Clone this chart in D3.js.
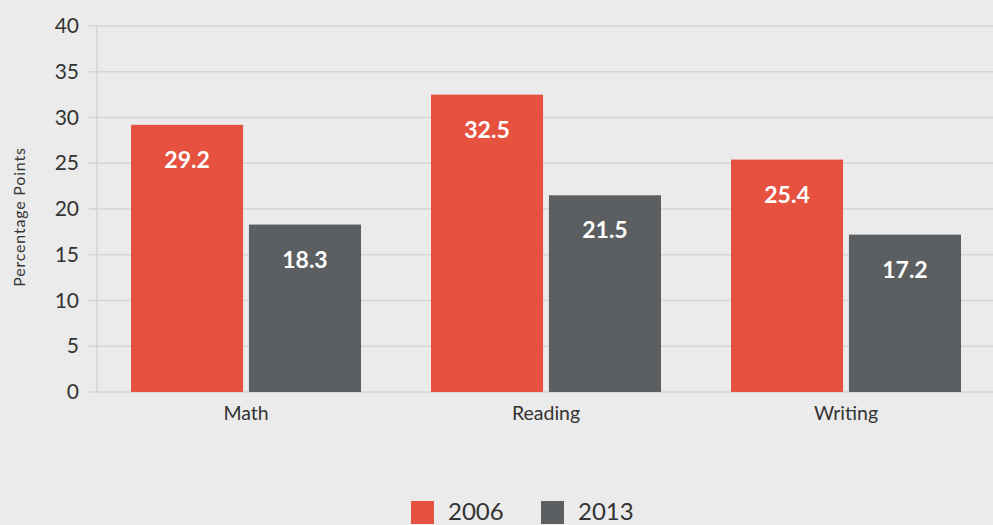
<!DOCTYPE html>
<html>
<head>
<meta charset="utf-8">
<script src="https://cdn.jsdelivr.net/npm/d3@7"></script>
<style>
  html, body { margin: 0; padding: 0; background: #ebebeb; }
  svg { display: block; font-family: Lato, "Open Sans", sans-serif; }
</style>
</head>
<body>
<svg id="chart" width="993" height="525"></svg>
<script>
var categories = ['Math', 'Reading', 'Writing'] ;
var seriesNames = ['2006', '2013'] ;
var values2006 = [29.2, 32.5, 25.4] ;
var values2013 = [18.3, 21.5, 17.2] ;
var yTicks = [0, 5, 10, 15, 20, 25, 30, 35, 40] ;
var colors = ['#e65140', '#5c5f61'] ;

var width = 993, height = 525 ;
var svg = d3.select('#chart') ;
svg.append('rect').attr('width', width).attr('height', height).attr('fill', '#ebebeb') ;

var plotLeft = 97, plotRight = 993, plotTop = 26, plotBottom = 392 ;

var y = d3.scaleLinear().domain([0, 40]).range([plotBottom, plotTop]) ;
var x0 = d3.scaleBand().domain(categories).range([96, 996]).paddingInner(0.2333).paddingOuter(0.1167) ;
var x1 = d3.scaleBand().domain(seriesNames).range([0, x0.bandwidth()]).paddingInner(0.05) ;

// grid lines
svg.append('g').selectAll('line').data(yTicks).join('line')
	.attr('x1', 89).attr('x2', plotRight)
	.attr('y1', d => y(d)).attr('y2', d => y(d))
	.attr('stroke', '#d5d5d5').attr('stroke-width', 1.5) ;

// y axis line
svg.append('line').attr('x1', plotLeft).attr('x2', plotLeft).attr('y1', plotTop).attr('y2', plotBottom)
	.attr('stroke', '#d5d5d5').attr('stroke-width', 1.5) ;

// y tick labels
var yAxis = d3.axisLeft(y).tickValues(yTicks).tickSize(0).tickPadding(0) ;
var gy = svg.append('g').attr('transform', 'translate(79,0)').call(yAxis) ;
gy.select('.domain').remove() ;
gy.selectAll('text').attr('font-size', 21).attr('fill', '#333').attr('font-family', 'Lato, sans-serif') ;

// y title
svg.append('text').attr('transform', 'translate(25,' + ((plotTop + plotBottom) / 2 + 8) + ') rotate(-90)')
	.attr('text-anchor', 'middle').attr('font-size', 16).attr('letter-spacing', 0.8).attr('fill', '#333')
	.text('Percentage Points') ;

// x labels
var xAxis = d3.axisBottom(x0).tickSize(0).tickPadding(0) ;
var gx = svg.append('g').attr('transform', 'translate(0,' + (plotBottom + 14) + ')').call(xAxis) ;
gx.select('.domain').remove() ;
gx.selectAll('text').attr('font-size', 19.5).attr('fill', '#333').attr('font-family', 'Lato, sans-serif') ;

// bars
var rows = categories.map((c, i) => ({ cat: c, vals: [values2006[i], values2013[i]] })) ;
var groups = svg.append('g').selectAll('g').data(rows).join('g')
	.attr('transform', d => 'translate(' + x0(d.cat) + ',0)') ;
groups.selectAll('rect').data(d => d.vals.map((v, j) => ({ s: seriesNames[j], v: v, j: j }))).join('rect')
	.attr('x', d => x1(d.s)).attr('width', x1.bandwidth())
	.attr('y', d => y(d.v)).attr('height', d => y(0) - y(d.v))
	.attr('fill', d => colors[d.j]) ;
groups.selectAll('text').data(d => d.vals.map((v, j) => ({ s: seriesNames[j], v: v }))).join('text')
	.attr('x', d => x1(d.s) + x1.bandwidth() / 2)
	.attr('y', d => y(d.v) + 43)
	.attr('text-anchor', 'middle').attr('fill', '#fff')
	.attr('font-size', 23).attr('font-weight', 'bold')
	.text(d => d.v.toFixed(1)) ;

// legend
var legendX = [411, 541] ;
var lg = svg.append('g').selectAll('g').data(seriesNames).join('g')
	.attr('transform', (d, i) => 'translate(' + legendX[i] + ',501)') ;
lg.append('rect').attr('width', 23).attr('height', 23).attr('fill', (d, i) => colors[i]) ;
lg.append('text').attr('x', 37).attr('y', 19).attr('font-size', 24).attr('fill', '#333').text(d => d) ;
</script>
</body>
</html>
